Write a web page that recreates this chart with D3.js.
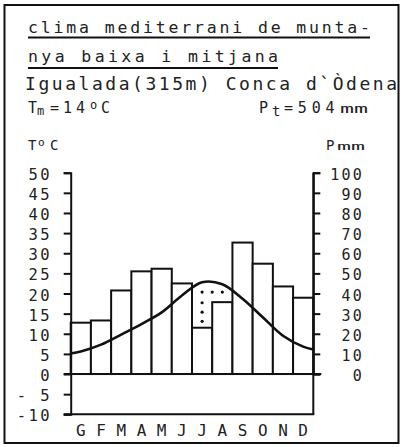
<!DOCTYPE html>
<html><head><meta charset="utf-8">
<script src="https://cdn.jsdelivr.net/npm/d3@7"></script>
<style>
html,body{margin:0;padding:0;background:#fff;}
svg{display:block;}
text{font-family:"DejaVu Sans Mono",monospace;fill:#222;}
</style></head>
<body>
<script>
// ---- data ----
const months = ["G","F","M","A","M","J","J","A","S","O","N","D"];
const precip = [25.5, 26.6, 41.5, 51, 52.3, 45, 23, 35.7, 65.3, 54.8, 43.5, 37.9];
const temp = [5.6, 7.3, 9.8, 12.4, 15.3, 19.5, 22.8, 22.3, 18.7, 14.1, 9.5, 6.8];
const tempEdges = [5.1, 6.1]; // curve value at left and right axis
const tempTicks = [50,45,40,35,30,25,20,15,10,5,0,-5,-10];
const tempTickLabels = ["50","45","40","35","30","25","20","15","10","5","0","- 5","-10"];
const precipTicks = [100,90,80,70,60,50,40,30,20,10,0];
// dry-period dot marks: month index, precipitation value
const dryDots = [[6,40.7],[6.5,40.7],[7,40.7],[6,35.4],[6,30.7],[6,26.2]];
const titleLines = ["clima mediterrani de munta-","nya baixa i mitjana"];
const placeLine = "Igualada(315m) Conca d`Òdena";

const W = 405, H = 447;
const svg = d3.select("body").append("svg").attr("width",W).attr("height",H);

// frame
svg.append("rect").attr("x",4.5).attr("y",5).attr("width",394).attr("height",438)
  .attr("fill","none").attr("stroke","#111").attr("stroke-width",2);

// title
const tl = [{t:titleLines[0],y:33,len:342,ul:37.5},{t:titleLines[1],y:62,len:250,ul:68}];
tl.forEach(d=>{
  svg.append("text").attr("x",28).attr("y",d.y).attr("font-size",16.5)
    .attr("textLength",d.len).attr("lengthAdjust","spacing").text(d.t);
  svg.append("line").attr("x1",28).attr("x2",28+d.len).attr("y1",d.ul).attr("y2",d.ul)
    .attr("stroke","#111").attr("stroke-width",2);
});
svg.append("text").attr("x",25).attr("y",90).attr("font-size",18)
  .attr("textLength",372).attr("lengthAdjust","spacing").text(placeLine);

// Tm=14oC
const tm = svg.append("text").attr("y",112.5).attr("font-size",15);
tm.append("tspan").attr("x",28).text("T");
tm.append("tspan").attr("x",37).attr("dy",2.5).attr("font-size",12).text("m");
tm.append("tspan").attr("x",50).attr("dy",-2.5).attr("letter-spacing",4).text("=14");
tm.append("tspan").attr("x",90).attr("dy",-4).attr("font-size",12).text("o");
tm.append("tspan").attr("x",101).attr("dy",4).text("C");
// Pt=504mm
const pt = svg.append("text").attr("y",112.5).attr("font-size",15);
pt.append("tspan").attr("x",259).text("P");
pt.append("tspan").attr("x",272).attr("dy",3.5).attr("font-size",14).text("t");
pt.append("tspan").attr("x",284).attr("dy",-3.5).attr("letter-spacing",4.8).text("=504");
pt.append("tspan").attr("x",340).attr("font-size",12).attr("textLength",28).attr("lengthAdjust","spacingAndGlyphs").text("mm");

// axis titles
const tc = svg.append("text").attr("y",150).attr("font-size",14);
tc.append("tspan").attr("x",28).text("T");
tc.append("tspan").attr("x",38).attr("dy",-4).attr("font-size",11).text("o");
tc.append("tspan").attr("x",50).attr("dy",4).text("C");
const pm = svg.append("text").attr("y",150).attr("font-size",14);
pm.append("tspan").attr("x",326).text("P");
pm.append("tspan").attr("x",337).attr("font-size",11).attr("textLength",28).attr("lengthAdjust","spacingAndGlyphs").text("mm");

// scales
const x0 = 70.7, x1 = 313.3;
const xm = d3.scaleLinear().domain([-0.5, 11.5]).range([x0, x1]);
const yT = d3.scaleLinear().domain([-10, 50]).range([414.3, 172.7]);
const yP = d3.scaleLinear().domain([0, 100]).range([yT(0), yT(50)]);

// bars
svg.append("g").selectAll("rect").data(precip).join("rect")
  .attr("x",(d,i)=>xm(i-0.5)).attr("width",(d,i)=>xm(i+0.5)-xm(i-0.5))
  .attr("y",d=>yP(d)).attr("height",d=>yP(0)-yP(d))
  .attr("fill","#fff").attr("stroke","#111").attr("stroke-width",2);

// dry dots
svg.append("g").selectAll("circle").data(dryDots).join("circle")
  .attr("cx",d=>xm(d[0])).attr("cy",d=>yP(d[1])).attr("r",1.6).attr("fill","#111");

// temperature curve
const tPts = [[-0.5,tempEdges[0]]].concat(temp.map((t,i)=>[i,t])).concat([[11.5,tempEdges[1]]]);
svg.append("path").datum(tPts)
  .attr("d",d3.line().x(d=>xm(d[0])).y(d=>yT(d[1])).curve(d3.curveCatmullRom.alpha(0.5)))
  .attr("fill","none").attr("stroke","#111").attr("stroke-width",2.6);

// zero line and bottom line
svg.append("line").attr("x1",x0-7).attr("x2",x1+8).attr("y1",yT(0)).attr("y2",yT(0))
  .attr("stroke","#111").attr("stroke-width",2);
svg.append("line").attr("x1",x0-7).attr("x2",x1+1).attr("y1",yT(-10)).attr("y2",yT(-10))
  .attr("stroke","#111").attr("stroke-width",2);
// right vertical line down to bottom
svg.append("line").attr("x1",x1).attr("x2",x1).attr("y1",yT(50)).attr("y2",yT(-10))
  .attr("stroke","#111").attr("stroke-width",2);

// left axis
const gl = svg.append("g").attr("transform",`translate(${x0},0)`)
  .call(d3.axisLeft(yT).tickValues(tempTicks).tickSize(7).tickSizeOuter(7).tickFormat(""));
gl.selectAll("path,line").attr("stroke","#111").attr("stroke-width",2);
svg.append("g").selectAll("text").data(tempTicks).join("text")
  .attr("x",52).attr("y",d=>yT(d)+7).attr("text-anchor","end")
  .attr("font-size",15.5).attr("letter-spacing",2.4)
  .text((d,i)=>tempTickLabels[i]);

// right axis
const gr = svg.append("g").attr("transform",`translate(${x1},0)`)
  .call(d3.axisRight(yP).tickValues(precipTicks).tickSize(7).tickSizeOuter(7).tickFormat(""));
gr.selectAll("path,line").attr("stroke","#111").attr("stroke-width",2);
svg.append("g").selectAll("text").data(precipTicks).join("text")
  .attr("x",364).attr("y",d=>yP(d)+7).attr("text-anchor","end")
  .attr("font-size",15).attr("letter-spacing",2.2)
  .text(d=>d);

// month labels
svg.append("g").selectAll("text").data(months).join("text")
  .attr("x",(d,i)=>xm(i)).attr("y",436).attr("text-anchor","middle")
  .attr("font-size",16).text(d=>d);
</script>
</body></html>
